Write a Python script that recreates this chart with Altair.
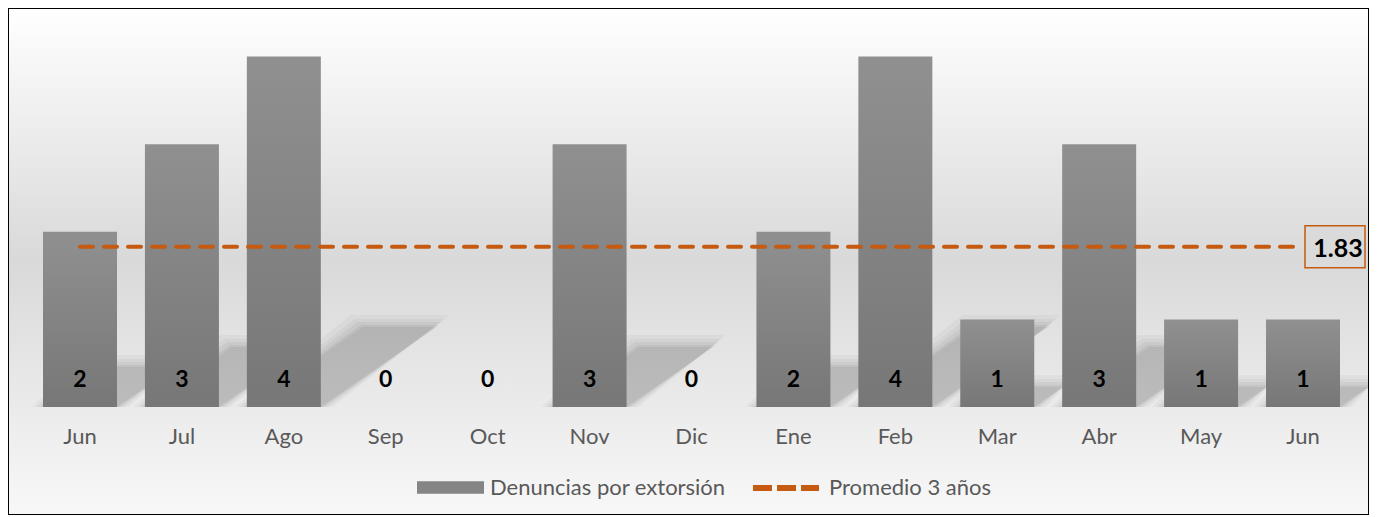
import altair as alt
import pandas as pd

meses = ["Jun", "Jul", "Ago", "Sep", "Oct", "Nov", "Dic", "Ene", "Feb", "Mar", "Abr", "May", "Jun"]
denuncias = [2, 3, 4, 0, 0, 3, 0, 2, 4, 1, 3, 1, 1]
promedio = 1.83
serie_barras = "Denuncias por extorsión"
serie_linea = "Promedio 3 años"

df = pd.DataFrame({
    "idx": list(range(len(meses))),
    "mes": meses,
    "valor": denuncias,
    "prom": [promedio] * len(meses),
    "serie": [serie_barras] * len(meses),
    "serie2": [serie_linea] * len(meses),
})

W, H = 1361, 507
FONT = "Lato"
ORANGE = "#C55A11"
Y_TOP, Y_BOT = 4.555, -1.233
STEP_PX, UNIT_PX = 101.92, 87.6

xs = alt.Scale(paddingInner=0.274, paddingOuter=0.314, align=0.547)
xq = alt.Scale(domain=[-0.7064, 12.648], nice=False, zero=False)
ys = alt.Scale(domain=[Y_BOT, Y_TOP], nice=False, zero=False)
X = alt.X("idx:O", scale=xs, axis=None)

bg_grad = alt.LinearGradient(
    gradient="linear", x1=0, y1=0, x2=0, y2=1,
    stops=[alt.GradientStop(offset=0, color="#ffffff"),
           alt.GradientStop(offset=0.5, color="#d9d9d9"),
           alt.GradientStop(offset=1, color="#f8f8f8")])
bar_grad = alt.LinearGradient(
    gradient="linear", x1=0, y1=0, x2=0, y2=1,
    stops=[alt.GradientStop(offset=0, color="#909090"),
           alt.GradientStop(offset=1, color="#777777")])

base = alt.Chart(df).transform_calculate(
    z="0", ytop=str(Y_TOP), ybot=str(Y_BOT), ylab="0.232", ymes="-0.422")

bg = base.transform_filter("datum.idx == 0").mark_rect(
    color=bg_grad, stroke="#000000", strokeWidth=2).encode(
    x=alt.value(0), x2=alt.value(W),
    y=alt.Y("ytop:Q", scale=ys, axis=None), y2="ybot:Q")

# perspective shadows of the bars (soft edges via stacked translucent layers)
HW, DX, DY = 0.363, 0.2845, 0.228
shadows = []
for e_px, op in [(12, 0.03), (8, 0.035), (5, 0.04), (2, 0.05), (0, 0.05)]:
    ex, ey = e_px / STEP_PX, e_px / UNIT_PX
    s = alt.Chart(df).transform_filter("datum.valor > 0").transform_calculate(
        t="[0, 1]").transform_flatten(["t"]).transform_calculate(
        sx1=f"datum.idx - {HW} - {ex} + datum.t * {DX} * datum.valor",
        sx2=f"datum.idx + {HW} + {ex} + datum.t * {DX} * datum.valor",
        sy=f"datum.t * ({DY} * datum.valor + {ey})",
    ).mark_area(orient="horizontal", color="#000000", opacity=op).encode(
        y=alt.Y("sy:Q", scale=ys, axis=None),
        x=alt.X("sx1:Q", scale=xq, axis=None), x2="sx2:Q",
        detail="idx:N")
    shadows.append(s)

bars = base.mark_bar(color=bar_grad).encode(
    x=X, y=alt.Y("valor:Q", scale=ys, axis=None), y2="z:Q")

bar_legend = base.mark_bar().encode(
    x=X, y=alt.Y("z:Q", scale=ys, axis=None), y2="z:Q",
    fill=alt.Fill("serie:N", scale=alt.Scale(range=["#858585"]),
                  legend=alt.Legend(orient="none", legendX=409, legendY=446, title=None,
                                    symbolType="M-1,-0.19H1V0.19H-1Z", symbolSize=4489,
                                    symbolStrokeWidth=0, labelFont=FONT, labelFontSize=22,
                                    labelColor="#595959", labelOffset=6, padding=0,
                                    labelLimit=0)))

line = base.mark_line(strokeDash=[13, 11], strokeWidth=4, strokeCap="round").encode(
    x=X, y=alt.Y("prom:Q", scale=ys, axis=None),
    stroke=alt.Stroke("serie2:N", scale=alt.Scale(range=[ORANGE]),
                      legend=alt.Legend(orient="none", legendX=742, legendY=444, title=None,
                                        symbolType="stroke", symbolSize=4356,
                                        symbolStrokeWidth=6, symbolDash=[19, 5],
                                        labelFont=FONT, labelFontSize=22,
                                        labelColor="#595959", labelOffset=7, padding=0,
                                        labelLimit=0)))

bar_labels = base.mark_text(font=FONT, fontSize=23, fontWeight="bold", color="#000000",
                            baseline="alphabetic").encode(
    x=X, y=alt.Y("ylab:Q", scale=ys, axis=None), text="valor:Q")

month_labels = base.mark_text(font=FONT, fontSize=22, color="#595959",
                              baseline="alphabetic").encode(
    x=X, y=alt.Y("ymes:Q", scale=ys, axis=None), text="mes:N")

last = base.transform_filter("datum.idx == 12")
box = last.mark_point(shape="M-1,-0.7H1V0.7H-1Z", size=3600, filled=True, fill="#dadada",
                      stroke=ORANGE, strokeWidth=1.5, opacity=1, xOffset=32).encode(
    x=X, y=alt.Y("prom:Q", scale=ys, axis=None))
avg_label = last.mark_text(font=FONT, fontSize=25, fontWeight="bold", color="#000000",
                           baseline="alphabetic", dx=35, dy=10).encode(
    x=X, y=alt.Y("prom:Q", scale=ys, axis=None), text=alt.Text("prom:Q", format=".2f"))

main = alt.layer(bars, bar_legend, line, bar_labels, month_labels, box, avg_label)

chart = alt.layer(bg, *shadows, main).resolve_scale(x="independent").properties(
    width=W, height=H, autosize="none", padding=0
).configure_view(stroke=None)

chart.save("out.html", embed_options={"renderer": "svg", "actions": False})
